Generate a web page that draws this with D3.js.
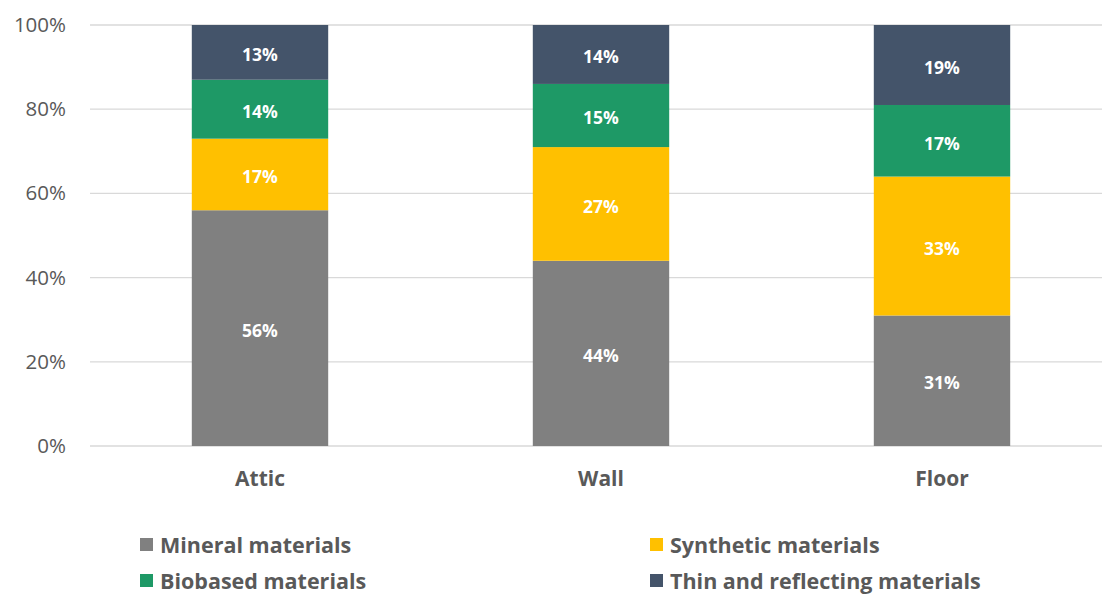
<!DOCTYPE html>
<html>
<head>
<meta charset="utf-8">
<script src="https://cdn.jsdelivr.net/npm/d3@7"></script>
<style>
  html, body { margin: 0; padding: 0; background: #fff; }
  svg { display: block; font-family: "Open Sans", "Noto Sans", sans-serif; }
</style>
</head>
<body>
<svg id="chart" width="1102" height="594"></svg>
<script>
// Insulation material shares per building element (percent)
const categories = ["Attic", "Wall", "Floor"];
const seriesNames = ["Mineral materials", "Synthetic materials", "Biobased materials", "Thin and reflecting materials"];
const mineral    = [56, 44, 31];
const synthetic  = [17, 27, 33];
const biobased   = [14, 15, 17];
const thin       = [13, 14, 19];
const yTicks     = [0, 20, 40, 60, 80, 100];
const colors     = ["#808080", "#FFC000", "#1E9966", "#44546A"];

const seriesValues = [mineral, synthetic, biobased, thin];
const rows = categories.map((c, i) => {
  const r = { category: c };
  seriesNames.forEach((s, k) => r[s] = seriesValues[k][i]);
  return r;
});

const svg = d3.select("#chart");
const x = d3.scaleBand().domain(categories).range([89.5, 1112.5]).paddingInner(0.6).paddingOuter(0.3);
const y = d3.scaleLinear().domain([0, 100]).range([446, 25]);

// gridlines
svg.append("g").selectAll("line").data(yTicks).join("line")
  .attr("x1", 90).attr("x2", 1102)
  .attr("y1", d => y(d)).attr("y2", d => y(d))
  .attr("stroke", "#d9d9d9").attr("stroke-width", 1.3);

// y axis labels
const yAxis = d3.axisLeft(y).tickValues(yTicks).tickFormat(d => d + "%").tickSize(0).tickPadding(0);
const gy = svg.append("g").attr("transform", "translate(66,0)").call(yAxis);
gy.select(".domain").remove();
gy.selectAll("text").attr("font-size", 20.5).attr("fill", "#595959")
  .attr("font-family", "'Open Sans', 'Noto Sans', sans-serif");

// stacked bars
const stack = d3.stack().keys(seriesNames);
const layers = stack(rows);
const g = svg.append("g");
layers.forEach((layer, k) => {
  const lg = g.append("g");
  lg.selectAll("rect").data(layer).join("rect")
    .attr("x", d => x(d.data.category))
    .attr("width", x.bandwidth())
    .attr("y", d => y(d[1]))
    .attr("height", d => y(d[0]) - y(d[1]))
    .attr("fill", colors[k]);
  lg.selectAll("text").data(layer).join("text")
    .attr("x", d => x(d.data.category) + x.bandwidth() / 2)
    .attr("y", d => (y(d[0]) + y(d[1])) / 2)
    .attr("dy", "0.5em")
    .attr("text-anchor", "middle")
    .attr("fill", "#fff").attr("font-weight", 700).attr("font-size", 17.5)
    .text(d => (d[1] - d[0]) + "%");
});

// x axis labels
const xAxis = d3.axisBottom(x).tickSize(0).tickPadding(0);
const gx = svg.append("g").attr("transform", "translate(0,471)").call(xAxis);
gx.select(".domain").remove();
gx.selectAll("text").attr("font-size", 21).attr("font-weight", 700).attr("fill", "#595959")
  .attr("font-family", "'Open Sans', 'Noto Sans', sans-serif");

// legend
const legendPos = [[140, 545], [650, 545], [140, 581], [650, 581]];
const legend = svg.append("g");
seriesNames.forEach((s, k) => {
  const [lx, ly] = legendPos[k];
  legend.append("rect").attr("x", lx).attr("y", ly - 7).attr("width", 13).attr("height", 13).attr("fill", colors[k]);
  legend.append("text").attr("x", lx + 20).attr("y", ly).attr("dy", "0.36em")
    .attr("font-size", 21.5).attr("font-weight", 700).attr("fill", "#595959").text(s);
});
</script>
</body>
</html>
